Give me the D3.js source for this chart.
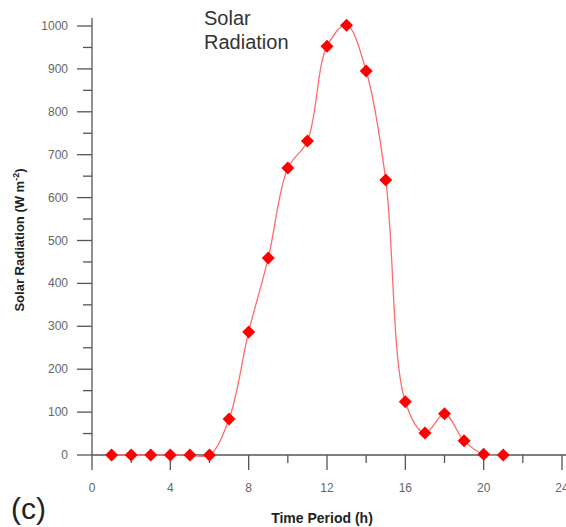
<!DOCTYPE html>
<html>
<head>
<meta charset="utf-8">
<script src="https://d3js.org/d3.v7.min.js"></script>
<style>
  body { margin: 0; background: #fff; }
  svg { display: block; }
  text { font-family: "Liberation Sans", Arial, sans-serif; }
</style>
</head>
<body>
<div id="chart"></div>
<script>
// hourly solar radiation readings
var hours = [1, 2, 3, 4, 5, 6, 7, 8, 9, 10, 11, 12, 13, 14, 15, 16, 17, 18, 19, 20, 21];
var radiation = [0, 0, 0, 0, 0, 0, 84, 287, 459, 669, 732, 953, 1002, 895, 641, 124, 51, 96, 33, 2, 0];
var xTicks = [0, 4, 8, 12, 16, 20, 24];
var yTicks = [0, 100, 200, 300, 400, 500, 600, 700, 800, 900, 1000];

var width = 566, height = 527;
var svg = d3.select("#chart").append("svg")
    .attr("width", width)
    .attr("height", height);

var xScale = d3.scaleLinear().domain([0, 24]).range([92, 562]);
var yScale = d3.scaleLinear().domain([0, 1000]).range([455, 26]);
var axisColor = "#555";

// x axis
var xAxis = svg.append("g").attr("transform", "translate(0,455)");
xAxis.append("line")
    .attr("x1", 92).attr("x2", width)
    .attr("stroke", axisColor).attr("stroke-width", 1.3);
xAxis.selectAll(".minor").data(d3.range(2, 24, 4)).join("line")
    .attr("x1", d => xScale(d)).attr("x2", d => xScale(d))
    .attr("y1", 0).attr("y2", 8)
    .attr("stroke", axisColor).attr("stroke-width", 1.3);
xAxis.selectAll(".major").data(xTicks).join("line")
    .attr("x1", d => xScale(d)).attr("x2", d => xScale(d))
    .attr("y1", 0).attr("y2", 15)
    .attr("stroke", axisColor).attr("stroke-width", 1.3);
xAxis.selectAll(".lbl").data(xTicks).join("text")
    .attr("x", d => xScale(d)).attr("y", 37)
    .attr("text-anchor", "middle")
    .attr("font-size", 12).attr("fill", "#666")
    .text(d => d);

// y axis
var yAxis = svg.append("g").attr("transform", "translate(92,0)");
yAxis.append("line")
    .attr("y1", 18).attr("y2", 455)
    .attr("stroke", axisColor).attr("stroke-width", 1.3);
yAxis.selectAll(".minor").data(d3.range(50, 1000, 100)).join("line")
    .attr("x1", -9).attr("x2", 0)
    .attr("y1", d => yScale(d)).attr("y2", d => yScale(d))
    .attr("stroke", axisColor).attr("stroke-width", 1.3);
yAxis.selectAll(".major").data(yTicks).join("line")
    .attr("x1", -15).attr("x2", 0)
    .attr("y1", d => yScale(d)).attr("y2", d => yScale(d))
    .attr("stroke", axisColor).attr("stroke-width", 1.3);
yAxis.selectAll(".lbl").data(yTicks).join("text")
    .attr("x", -24).attr("y", d => yScale(d) + 4)
    .attr("text-anchor", "end")
    .attr("font-size", 12).attr("fill", "#666")
    .text(d => d);

// smooth line through the points
var points = hours.map((h, i) => [h, radiation[i]]);
var line = d3.line()
    .x(d => xScale(d[0]))
    .y(d => yScale(d[1]))
    .curve(d3.curveCatmullRom.alpha(0.5));
svg.append("path")
    .datum(points)
    .attr("d", line)
    .attr("fill", "none")
    .attr("stroke", "#ff6b6b")
    .attr("stroke-width", 1.3);

// diamond markers
svg.selectAll(".pt").data(points).join("path")
    .attr("class", "pt")
    .attr("transform", d => `translate(${xScale(d[0])},${yScale(d[1])})`)
    .attr("d", "M0,-6.5L6.5,0L0,6.5L-6.5,0Z")
    .attr("fill", "#ff0000");

// labels
svg.append("text")
    .attr("x", 204).attr("y", 25)
    .attr("font-size", 20).attr("fill", "#333")
    .selectAll("tspan").data(["Solar", "Radiation"]).join("tspan")
    .attr("x", 204).attr("dy", (d, i) => i ? 24 : 0)
    .text(d => d);

svg.append("text")
    .attr("transform", "translate(24,240) rotate(-90)")
    .attr("text-anchor", "middle")
    .attr("font-size", 13).attr("font-weight", "bold").attr("fill", "#222")
    .html("Solar Radiation (W m<tspan dy='-5' font-size='9'>-2</tspan><tspan dy='5'>)</tspan>");

svg.append("text")
    .attr("x", 322).attr("y", 523)
    .attr("text-anchor", "middle")
    .attr("font-size", 14).attr("font-weight", "bold").attr("fill", "#222")
    .text("Time Period (h)");

svg.append("text")
    .attr("x", 11).attr("y", 519)
    .attr("font-size", 30).attr("fill", "#222")
    .text("(c)");
</script>
</body>
</html>
